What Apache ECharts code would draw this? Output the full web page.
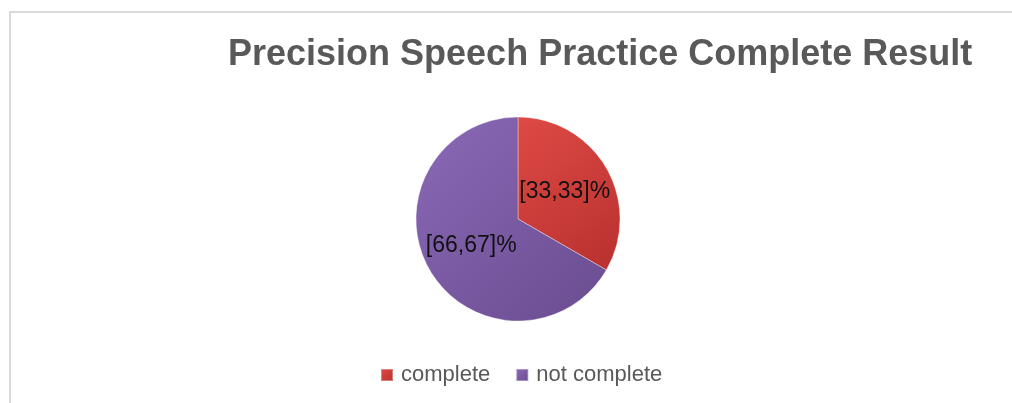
<!DOCTYPE html>
<html>
<head>
<meta charset="utf-8">
<script src="https://cdn.jsdelivr.net/npm/echarts@6/dist/echarts.min.js"></script>
<style>
  html, body { margin: 0; padding: 0; background: #fff; }
  #container { width: 1012px; height: 403px; }
</style>
</head>
<body>
<div id="container"></div>
<script>
// data
var titleText = 'Precision Speech Practice Complete Result';
var categories = ['complete', 'not complete'];
var values = [33.33, 66.67];
var colors = [
  ['#de4a45', '#b8302e'],
  ['#8a69b6', '#6a4c90']
];

var dom = document.getElementById('container');
var myChart = echarts.init(dom);

var pieData = [];
for (var i = 0; i < categories.length; i++) {
  pieData.push({
    name: categories[i],
    value: values[i],
    itemStyle: {
      color: new echarts.graphic.LinearGradient(0, 0, 1, 1, [
        { offset: 0, color: colors[i][0] },
        { offset: 1, color: colors[i][1] }
      ])
    }
  });
}

myChart.setOption({
  animation: false,
  backgroundColor: '#fff',
  graphic: [{
    type: 'rect',
    shape: { x: 10, y: 12, width: 1100, height: 500 },
    style: { fill: 'none', stroke: '#d9d9d9', lineWidth: 2 },
    silent: true
  }],
  title: {
    text: titleText,
    left: 228,
    top: 37,
    padding: 0,
    textStyle: {
      fontFamily: 'Liberation Sans',
      fontSize: 36,
      fontWeight: 'bold',
      color: '#595959'
    }
  },
  legend: {
    data: categories,
    left: 380,
    top: 364,
    padding: 0,
    icon: 'rect',
    itemWidth: 12,
    itemHeight: 12,
    itemGap: 25,
    textStyle: {
      fontFamily: 'Liberation Sans',
      fontSize: 22,
      color: '#595959',
      padding: [0, 0, 0, 3]
    }
  },
  series: [{
    type: 'pie',
    center: [518, 219],
    radius: 102,
    startAngle: 90,
    clockwise: true,
    data: pieData,
    itemStyle: {
      borderColor: 'rgba(255,255,255,0.35)',
      borderWidth: 1
    },
    label: {
      show: true,
      position: 'inside',
      fontFamily: 'Liberation Sans',
      fontSize: 23,
      color: '#111',
      formatter: function (p) {
        return '[' + p.value.toFixed(2).replace('.', ',') + ']%';
      }
    },
    labelLine: { show: false },
    emphasis: { disabled: true }
  }]
});
</script>
</body>
</html>
